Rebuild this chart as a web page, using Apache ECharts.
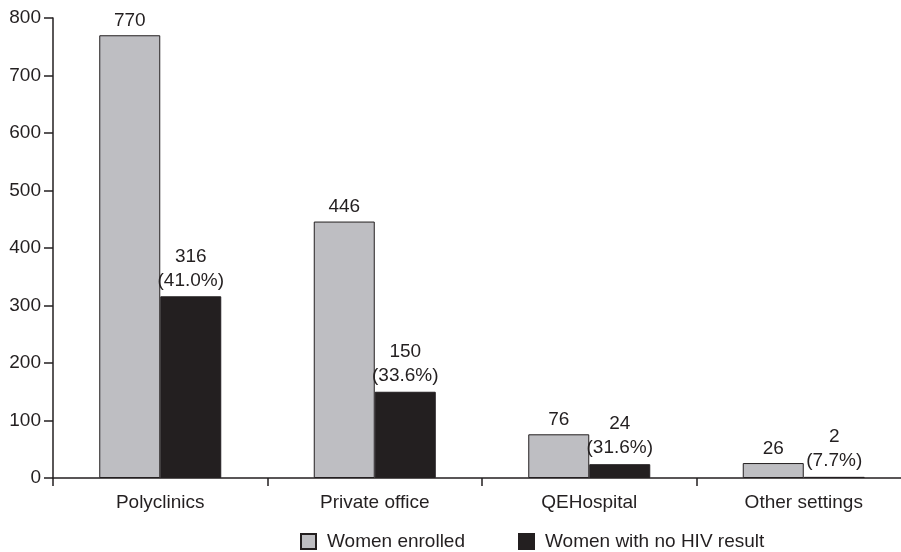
<!DOCTYPE html>
<html><head><meta charset="utf-8">
<script src="https://cdn.jsdelivr.net/npm/echarts@6/dist/echarts.min.js"></script>
<style>html,body{margin:0;padding:0;background:#fff;overflow:hidden}#c{width:920px;height:552px}</style>
</head><body><div id="c"></div>
<script>
const categories = ['Polyclinics', 'Private office', 'QEHospital', 'Other settings'];
const enrolled = [770, 446, 76, 26];
const noResult = [316, 150, 24, 2];
const noResultPct = ['41.0%', '33.6%', '31.6%', '7.7%'];
const seriesNames = ['Women enrolled', 'Women with no HIV result'];

const font = 'Liberation Sans, Arial, Helvetica, sans-serif';
const ink = '#231f20';
const chart = echarts.init(document.getElementById('c'));
chart.setOption({
  animation: false,
  textStyle: { fontFamily: font },
  grid: { left: 53, top: 18, width: 858, height: 460, containLabel: false },
  legend: {
    top: 527, left: 295, itemWidth: 15, itemHeight: 15, itemGap: 53, icon: 'rect',
    textStyle: { fontSize: 19, color: ink, fontFamily: font, padding: [0, 0, 0, 6] },
    data: seriesNames
  },
  xAxis: {
    type: 'category', data: categories,
    axisLine: { lineStyle: { color: ink, width: 1.5 } },
    axisTick: { show: true, length: 8, inside: false, lineStyle: { color: ink, width: 1.5 } },
    axisLabel: { fontSize: 19, color: ink, margin: 15, fontFamily: font }
  },
  yAxis: {
    type: 'value', min: 0, max: 800, interval: 100,
    splitLine: { show: false },
    axisLine: { show: true, lineStyle: { color: ink, width: 1.5 } },
    axisTick: { show: true, length: 9, lineStyle: { color: ink, width: 1.5 } },
    axisLabel: { fontSize: 19, color: ink, margin: 12, fontFamily: font }
  },
  series: [
    {
      name: seriesNames[0], type: 'bar', data: enrolled, barWidth: 61, barGap: '0%',
      itemStyle: { color: '#bebec2', borderColor: ink, borderWidth: 1 },
      label: { show: true, position: 'top', distance: 5, fontSize: 19, color: ink, fontFamily: font }
    },
    {
      name: seriesNames[1], type: 'bar', data: noResult, barWidth: 61,
      itemStyle: { color: ink, borderColor: ink, borderWidth: 1 },
      label: {
        show: true, position: 'top', distance: 4, fontSize: 19, color: ink, lineHeight: 24, fontFamily: font,
        formatter: p => p.value + '\n(' + noResultPct[p.dataIndex] + ')'
      }
    }
  ]
});
</script></body></html>
